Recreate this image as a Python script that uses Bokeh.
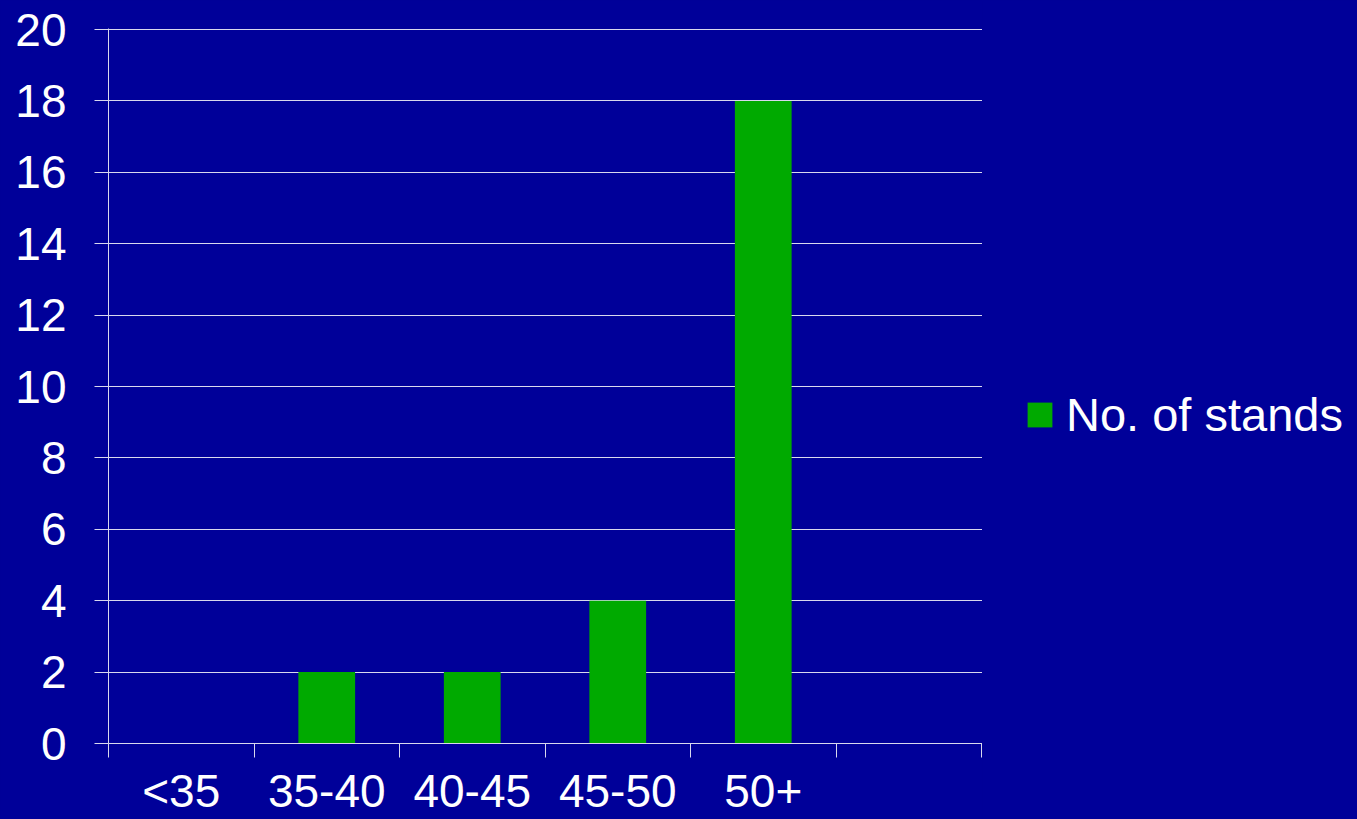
from bokeh.plotting import figure
from bokeh.layouts import row
from bokeh.models import Range1d, FixedTicker, Legend, LegendItem, ColumnDataSource
from bokeh.embed import file_html
from bokeh.resources import INLINE

# Stand counts per age class
categories = ["<35", "35-40", "40-45", "45-50", "50+"]
stands = [0, 2, 2, 4, 18]
n_slots = 6  # the axis has one trailing empty slot
y_ticks = [0, 2, 4, 6, 8, 10, 12, 14, 16, 18, 20]
series_name = "No. of stands"

BG = "#000099"
GREEN = "#00aa00"
LINE = "#d8d8ee"
FONT = "Liberation Sans"
BG_STYLE = {"background-color": BG}

# one extra pixel past the last tick / gridline so edge lines are not clipped
X_PAD = 1 / 145.5
Y_PAD = 1 / 35.7

centers = [i + 0.5 for i in range(len(categories))]
src = ColumnDataSource(dict(x=centers, top=stands, cat=categories))

p = figure(
    width=982, height=819,
    x_range=Range1d(0, n_slots + X_PAD), y_range=Range1d(0, 20 + Y_PAD),
    output_backend="svg", toolbar_location=None,
    min_border_left=108, min_border_right=0,
    min_border_top=28, min_border_bottom=76,
    background_fill_color=BG, border_fill_color=BG,
    outline_line_color=None, styles=BG_STYLE,
)

bars = p.vbar(x="x", top="top", width=0.39, bottom=0, source=src,
              fill_color=GREEN, line_color=None)

# x axis: tick marks on slot boundaries, labels at slot centres
slot_centres = [i + 0.5 for i in range(n_slots)]
labels = categories + [""] * (n_slots - len(categories))
p.xaxis.ticker = FixedTicker(ticks=slot_centres, minor_ticks=list(range(n_slots + 1)))
p.xaxis.major_label_overrides = {c: l for c, l in zip(slot_centres, labels)}
p.xaxis.major_tick_line_color = None
p.xaxis.minor_tick_line_color = LINE
p.xaxis.minor_tick_out = 14
p.xaxis.minor_tick_in = 0
p.xaxis.axis_line_color = LINE
p.xaxis.major_label_text_color = "white"
p.xaxis.major_label_text_font = FONT
p.xaxis.major_label_text_font_size = "46px"
p.xaxis.major_label_standoff = 7

# y axis
p.yaxis.ticker = FixedTicker(ticks=y_ticks, minor_ticks=[])
p.yaxis.major_tick_line_color = LINE
p.yaxis.major_tick_out = 14
p.yaxis.major_tick_in = 0
p.yaxis.minor_tick_line_color = None
p.yaxis.axis_line_color = LINE
p.yaxis.major_label_text_color = "white"
p.yaxis.major_label_text_font = FONT
p.yaxis.major_label_text_font_size = "46px"
p.yaxis.major_label_standoff = 28

p.xgrid.grid_line_color = None
p.ygrid.grid_line_color = LINE
p.ygrid.grid_line_width = 1

# Legend panel to the right of the chart; its swatch renderer shares the
# bar data but sits outside the panel's visible range
side = figure(
    width=375, height=819,
    x_range=Range1d(-10, -9), y_range=Range1d(0, 1),
    output_backend="svg", toolbar_location=None,
    min_border=0, x_axis_location=None, y_axis_location=None,
    background_fill_color=BG, border_fill_color=BG,
    outline_line_color=None, styles=BG_STYLE,
)
side.grid.visible = False
swatch = side.vbar(x="x", top="top", width=0.39, source=src,
                   fill_color=GREEN, line_color=None)

legend = Legend(
    items=[LegendItem(label=series_name, renderers=[swatch])],
    location=(42, 301),
    background_fill_alpha=0, border_line_color=None,
    padding=0, margin=0, spacing=0,
    glyph_width=31, glyph_height=31, label_standoff=11,
    label_text_color="white", label_text_font=FONT,
    label_text_font_size="47px",
)
side.add_layout(legend)

layout = row(p, side, spacing=0, styles=BG_STYLE)
open("out.html", "w").write(file_html(layout, INLINE))
